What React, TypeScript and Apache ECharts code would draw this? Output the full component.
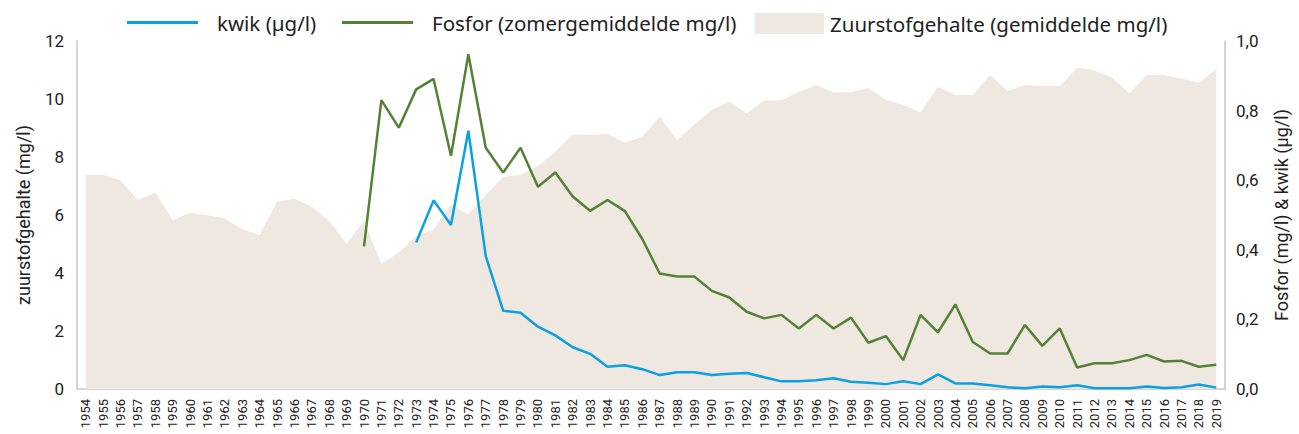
import React, { useEffect, useRef } from "react";
import * as echarts from "echarts";

const years: string[] = [
  "1954","1955","1956","1957","1958","1959","1960","1961","1962","1963","1964",
  "1965","1966","1967","1968","1969","1970","1971","1972","1973","1974","1975",
  "1976","1977","1978","1979","1980","1981","1982","1983","1984","1985","1986",
  "1987","1988","1989","1990","1991","1992","1993","1994","1995","1996","1997",
  "1998","1999","2000","2001","2002","2003","2004","2005","2006","2007","2008",
  "2009","2010","2011","2012","2013","2014","2015","2016","2017","2018","2019",
];

const zuurstof: number[] = [
  7.38, 7.38, 7.2, 6.52, 6.78, 5.83, 6.08, 5.99, 5.89, 5.51, 5.31,
  6.46, 6.56, 6.29, 5.79, 5.0, 5.8, 4.31, 4.71, 5.28, 5.51, 6.35,
  6.03, 6.69, 7.32, 7.38, 7.69, 8.18, 8.78, 8.76, 8.79, 8.49, 8.7,
  9.39, 8.59, 9.13, 9.62, 9.91, 9.51, 9.95, 9.96, 10.25, 10.47, 10.23,
  10.23, 10.38, 9.97, 9.79, 9.54, 10.42, 10.14, 10.14, 10.83, 10.28, 10.48,
  10.45, 10.45, 11.08, 10.98, 10.74, 10.2, 10.83, 10.82, 10.71, 10.56, 11.03,
];

const fosfor: (number | null)[] = [
  null, null, null, null, null, null, null, null, null, null, null,
  null, null, null, null, null, 0.41, 0.83, 0.751, 0.861, 0.891, 0.67,
  0.962, 0.693, 0.622, 0.693, 0.581, 0.622, 0.553, 0.512, 0.543, 0.511, 0.431,
  0.332, 0.323, 0.323, 0.282, 0.263, 0.222, 0.203, 0.213, 0.174, 0.213, 0.174,
  0.205, 0.133, 0.152, 0.083, 0.213, 0.163, 0.243, 0.135, 0.102, 0.102, 0.184,
  0.124, 0.174, 0.062, 0.074, 0.074, 0.083, 0.098, 0.079, 0.081, 0.064, 0.07,
];

const kwik: (number | null)[] = [
  null, null, null, null, null, null, null, null, null, null, null,
  null, null, null, null, null, null, null, null, 0.421, 0.542, 0.471,
  0.742, 0.382, 0.225, 0.219, 0.179, 0.154, 0.12, 0.101, 0.064, 0.068, 0.057,
  0.04, 0.048, 0.048, 0.04, 0.044, 0.046, 0.034, 0.022, 0.022, 0.025, 0.031,
  0.021, 0.018, 0.014, 0.022, 0.014, 0.042, 0.016, 0.016, 0.011, 0.005, 0.002,
  0.007, 0.005, 0.011, 0.002, 0.002, 0.002, 0.007, 0.003, 0.005, 0.013, 0.004,
];

const leftTicks = { min: 0, max: 12, interval: 2 };
const rightTicks = { min: 0, max: 1, interval: 0.2 };

const NAME_KWIK = "kwik (µg/l)";
const NAME_FOSFOR = "Fosfor (zomergemiddelde mg/l)";
const NAME_ZUURSTOF = "Zuurstofgehalte (gemiddelde mg/l)";

const BLUE = "#0aa0e2";
const GREEN = "#548235";
const SAND = "#eee8e1";
const AXIS = "#c6c6c6";
const TEXT = "#222222";
const FONT = "Roboto, 'Noto Sans', sans-serif";
const LEGEND_FONT = "'Noto Sans', Roboto, sans-serif";

export default function App() {
  const ref = useRef<HTMLDivElement>(null);

  useEffect(() => {
    document.body.style.margin = "0";
    if (!ref.current) return;
    const chart = echarts.init(ref.current, undefined, { renderer: "svg" });
    const legendText = { fontSize: 20.5, color: TEXT, fontFamily: LEGEND_FONT };
    chart.setOption({
      animation: false,
      textStyle: { fontFamily: FONT },
      legend: [
        {
          data: [{ name: NAME_KWIK, icon: "rect" }],
          left: 127,
          top: 12,
          padding: 0,
          itemWidth: 71,
          itemHeight: 3,
          textStyle: { ...legendText, padding: [0, 0, 0, 14] },
        },
        {
          data: [{ name: NAME_FOSFOR, icon: "rect" }],
          left: 342,
          top: 12,
          padding: 0,
          itemWidth: 71,
          itemHeight: 3,
          textStyle: { ...legendText, padding: [0, 0, 0, 14] },
        },
        {
          data: [{ name: NAME_ZUURSTOF, icon: "rect" }],
          left: 755,
          top: 13,
          padding: 0,
          itemWidth: 69,
          itemHeight: 21,
          textStyle: { ...legendText, padding: [0, 0, 0, 1] },
        },
      ],
      grid: { left: 77, right: 74, top: 41, bottom: 45, containLabel: false },
      xAxis: {
        type: "category",
        data: years,
        boundaryGap: true,
        axisLine: { show: true, lineStyle: { color: AXIS, width: 1.5 } },
        axisTick: { show: false },
        axisLabel: {
          rotate: 90,
          interval: 0,
          fontSize: 13,
          color: TEXT,
          margin: 10,
          fontFamily: FONT,
        },
      },
      yAxis: [
        {
          type: "value",
          ...leftTicks,
          name: "zuurstofgehalte (mg/l)",
          nameLocation: "middle",
          nameGap: 45,
          nameRotate: 90,
          nameTextStyle: { fontSize: 18, color: TEXT, fontFamily: FONT },
          axisLine: { show: true, lineStyle: { color: AXIS, width: 1.5 } },
          axisTick: { show: false },
          splitLine: { show: false },
          axisLabel: { fontSize: 17, color: TEXT, margin: 13, fontFamily: FONT },
        },
        {
          type: "value",
          ...rightTicks,
          position: "right",
          name: "Fosfor (mg/l) & kwik (µg/l)",
          nameLocation: "middle",
          nameGap: 47,
          nameRotate: 90,
          nameTextStyle: { fontSize: 18, color: TEXT, fontFamily: FONT },
          axisLine: { show: true, lineStyle: { color: AXIS, width: 1.5 } },
          axisTick: { show: false },
          splitLine: { show: false },
          axisLabel: {
            fontSize: 17,
            color: TEXT,
            margin: 11,
            fontFamily: FONT,
            formatter: (v: number) => v.toFixed(1).replace(".", ","),
          },
        },
      ],
      series: [
        {
          name: NAME_ZUURSTOF,
          type: "line",
          yAxisIndex: 0,
          data: zuurstof,
          symbol: "none",
          color: SAND,
          lineStyle: { width: 0, color: SAND },
          areaStyle: { color: SAND, opacity: 1 },
          z: 1,
        },
        {
          name: NAME_KWIK,
          type: "line",
          yAxisIndex: 1,
          data: kwik,
          symbol: "none",
          color: BLUE,
          lineStyle: { width: 2.5, color: BLUE },
          z: 3,
        },
        {
          name: NAME_FOSFOR,
          type: "line",
          yAxisIndex: 1,
          data: fosfor,
          symbol: "none",
          color: GREEN,
          lineStyle: { width: 2.5, color: GREEN },
          z: 2,
        },
      ],
    });
    return () => chart.dispose();
  }, []);

  return <div ref={ref} style={{ width: 1299, height: 434 }} />;
}
